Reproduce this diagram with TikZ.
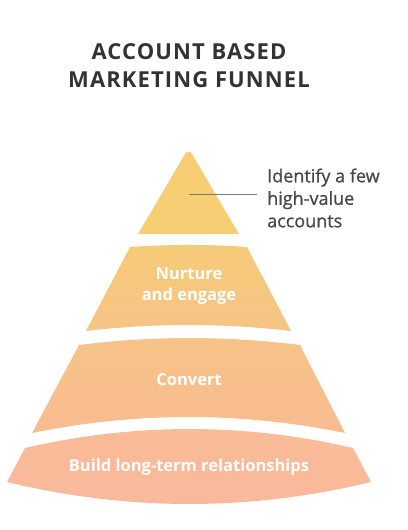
\documentclass[tikz,border=0pt]{standalone}
\usepackage{fontspec}
\setmainfont{Open Sans}
\newfontfamily\titlefont[LetterSpace=5]{Open Sans}
\newfontfamily\sidefont[FakeBold=0.8]{Open Sans}
\definecolor{titlegray}{HTML}{333333}
\definecolor{sidegray}{HTML}{474747}
\definecolor{lead}{HTML}{7A7A7A}
\definecolor{cA}{HTML}{F7CE74}
\definecolor{cBt}{HTML}{F6CB78}
\definecolor{cBb}{HTML}{F6C486}
\definecolor{cCt}{HTML}{F7C386}
\definecolor{cCb}{HTML}{F8BC91}
\definecolor{cDt}{HTML}{F9BC96}
\definecolor{cDb}{HTML}{F9B89D}
\tikzset{
  tierlabel/.style={text=white, font=\fontsize{16.5}{21}\selectfont\bfseries, align=center, inner sep=0pt},
  sidelabel/.style={text=sidegray, font=\fontsize{18}{22.5}\selectfont\sidefont, align=left, anchor=west, inner sep=0pt},
  titlelabel/.style={text=titlegray, font=\fontsize{22}{28}\selectfont\titlefont\bfseries, align=center, inner sep=0pt},
  leader/.style={draw=lead, line width=0.8pt}
}
\begin{document}
\begin{tikzpicture}[x=1pt,y=-1pt]
\useasboundingbox (0,0) rectangle (407,530);
% title
\node[titlelabel] (title) at (189,66) {ACCOUNT BASED\\MARKETING FUNNEL};
% top triangle
\fill[cA] (138,234) [rounded corners=7pt] -- (188.5,148) [sharp corners] -- (239,234) -- cycle;
% tier 2
\shade[top color=cBt, bottom color=cBb] (130,247) .. controls (169,244.3) and (208,244.3) .. (247,247) -- (291,331) .. controls (223,323) and (154,323) .. (86,331) -- cycle;
% tier 3
\shade[top color=cCt, bottom color=cCb] (79,345) .. controls (153,335.7) and (226,335.7) .. (300,345) -- (345,433) .. controls (241,411.7) and (136,411.7) .. (32,433) -- cycle;
% tier 4
\shade[top color=cDt, bottom color=cDb] (25,448) .. controls (134,422.7) and (244,422.7) .. (353,448) -- (371,482) .. controls (250,511.3) and (128,511.3) .. (7,482) -- cycle;
% labels
\coordinate (lstart) at (189,194);
\coordinate (lend) at (257,194);
\node[sidelabel] (side) at (267,198) {Identify a few\\high-value\\accounts};
\draw[leader] (lstart) -- (lend);
\node[tierlabel] (nurture) at (189,286) {Nurture\\and engage};
\node[tierlabel] (convert) at (189,380) {Convert};
\node[tierlabel] (build) at (189,467) {Build long-term relationships};
\end{tikzpicture}
\end{document}
